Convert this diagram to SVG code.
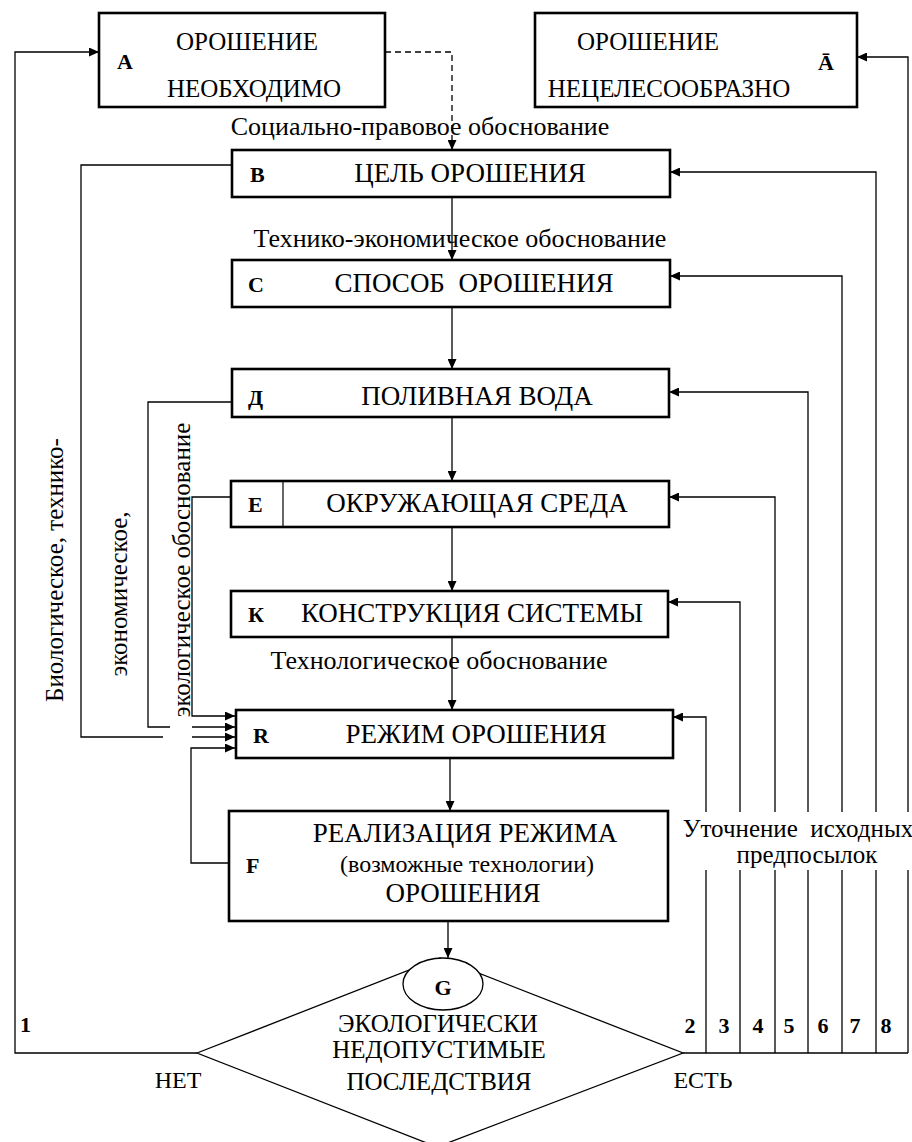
<svg xmlns="http://www.w3.org/2000/svg" width="912" height="1142" viewBox="0 0 912 1142">
<style>
.box{fill:#fff;stroke:#000;stroke-width:2.6}
.t{font-family:"Liberation Serif","Times New Roman","DejaVu Serif",serif;fill:#000}
.bt{font-size:27px;text-anchor:middle}
.tt{font-size:25px;text-anchor:middle}
.lt{font-size:26px;text-anchor:middle}
.b{font-size:22px;font-weight:bold}
.c{fill:none;stroke:#000;stroke-width:1.3}
.ca{fill:none;stroke:#000;stroke-width:1.3;marker-end:url(#ah)}
</style>
<defs>
<marker id="ah" markerUnits="userSpaceOnUse" markerWidth="11" markerHeight="9" refX="10" refY="4.5" orient="auto">
<path d="M0,0 L10,4.5 L0,9 z" fill="#000"/>
</marker>
</defs>
<rect width="912" height="1142" fill="#fff"/>
<g id="connectors">
<path class="ca" d="M385,52 H452 V150" stroke-dasharray="6,4"/>
<path class="ca" d="M452,197 V260" stroke="#555"/>
<path class="ca" d="M452,307 V369"/>
<path class="ca" d="M452,417 V481"/>
<path class="ca" d="M452,527 V591"/>
<path class="ca" d="M452,637 V710"/>
<path class="ca" d="M450,758 V811"/>
<path class="ca" d="M448,921 V958"/>
<path class="ca" d="M197,1053 H15 V52 H99"/>
<path class="c" d="M683,1053 H908"/>
<path class="c" d="M706,1053 V870"/><path class="ca" d="M706,812 V717 H673"/>
<path class="c" d="M740,1053 V870"/><path class="ca" d="M740,812 V602 H668"/>
<path class="c" d="M775,1053 V870"/><path class="ca" d="M775,812 V497 H669"/>
<path class="c" d="M808,1053 V870"/><path class="ca" d="M808,812 V392 H669"/>
<path class="c" d="M842,1053 V870"/><path class="ca" d="M842,812 V276 H670"/>
<path class="c" d="M876,1053 V870"/><path class="ca" d="M876,812 V172 H670"/>
<path class="c" d="M908,1053 V870"/><path class="ca" d="M908,812 V57 H857"/>
<path class="c" d="M232,165 H81 V737 H163"/><path class="ca" d="M192,737 H235"/>
<path class="c" d="M232,402 H148 V727 H170"/><path class="ca" d="M192,727 H235"/>
<path class="ca" d="M231,497 H192 V716 H235"/>
<path class="ca" d="M229,863 H191 V748 H235"/>
</g>
<g id="nodeA">
<rect class="box" x="99" y="13" width="286" height="94"/>
<text class="t b" x="117" y="69">A</text>
<text class="t tt" x="247" y="50">ОРОШЕНИЕ</text>
<text class="t tt" x="254" y="97">НЕОБХОДИМО</text>
</g>
<g id="nodeAbar">
<rect class="box" x="535" y="13" width="322" height="94"/>
<text class="t tt" x="648" y="50">ОРОШЕНИЕ</text>
<text class="t tt" x="669" y="97">НЕЦЕЛЕСООБРАЗНО</text>
<text class="t b" x="818" y="70">Ā</text>
</g>
<g id="nodeB">
<rect class="box" x="232" y="150" width="438" height="47"/>
<text class="t b" x="250" y="182">B</text>
<text class="t bt" x="470" y="182">ЦЕЛЬ ОРОШЕНИЯ</text>
</g>
<g id="nodeC">
<rect class="box" x="232" y="260" width="438" height="47"/>
<text class="t b" x="248" y="292">C</text>
<text class="t bt" x="474" y="292" style="white-space:pre">СПОСОБ  ОРОШЕНИЯ</text>
</g>
<g id="nodeD">
<rect class="box" x="232" y="369" width="437" height="48"/>
<text class="t b" x="248" y="405">Д</text>
<text class="t bt" x="477" y="405">ПОЛИВНАЯ ВОДА</text>
</g>
<g id="nodeE">
<rect class="box" x="231" y="481" width="438" height="46"/>
<line x1="283" y1="481" x2="283" y2="527" stroke="#000" stroke-width="1.2"/>
<text class="t b" x="248" y="512">E</text>
<text class="t bt" x="477" y="512">ОКРУЖАЮЩАЯ СРЕДА</text>
</g>
<g id="nodeK">
<rect class="box" x="231" y="591" width="437" height="46"/>
<text class="t b" x="248" y="622">К</text>
<text class="t bt" x="472" y="622">КОНСТРУКЦИЯ СИСТЕМЫ</text>
</g>
<g id="nodeR">
<rect class="box" x="236" y="710" width="437" height="48"/>
<text class="t b" x="253" y="743">R</text>
<text class="t bt" x="476" y="743">РЕЖИМ ОРОШЕНИЯ</text>
</g>
<g id="nodeF">
<rect class="box" x="229" y="811" width="439" height="110" stroke-width="3"/>
<text class="t b" x="246" y="873">F</text>
<text class="t bt" x="465" y="842">РЕАЛИЗАЦИЯ РЕЖИМА</text>
<text class="t tt" x="467" y="872" style="font-size:24px">(возможные технологии)</text>
<text class="t bt" x="463" y="902">ОРОШЕНИЯ</text>
</g>
<g id="nodeG">
<polygon points="197,1053 440,958 683,1053 437,1147" fill="#fff" stroke="#000" stroke-width="1.3"/>
<ellipse cx="443" cy="984" rx="40" ry="26" fill="#fff" stroke="#000" stroke-width="1.3"/>
<text class="t b" x="443" y="995" text-anchor="middle">G</text>
<text class="t tt" x="438" y="1032">ЭКОЛОГИЧЕСКИ</text>
<text class="t tt" x="439" y="1058">НЕДОПУСТИМЫЕ</text>
<text class="t tt" x="439" y="1090">ПОСЛЕДСТВИЯ</text>
</g>
<g id="labels">
<text class="t lt" x="420" y="135">Социально-правовое обоснование</text>
<text class="t lt" x="460" y="247">Технико-экономическое обоснование</text>
<text class="t lt" x="439" y="669">Технологическое обоснование</text>
<text class="t tt" x="798" y="837" style="white-space:pre">Уточнение  исходных</text>
<text class="t tt" x="807" y="863">предпосылок</text>
<text class="t tt" x="0" y="0" transform="translate(63,570) rotate(-90)">Биологическое, технико-</text>
<text class="t tt" x="0" y="0" transform="translate(127,594) rotate(-90)">экономическое,</text>
<text class="t tt" x="0" y="0" transform="translate(190,570) rotate(-90)">экологическое обоснование</text>
<text class="t tt" x="178" y="1088" style="font-size:24px">НЕТ</text>
<text class="t tt" x="703" y="1088" style="font-size:24px">ЕСТЬ</text>
<text class="t b" x="20" y="1032">1</text>
<text class="t b" x="690" y="1033" text-anchor="middle">2</text>
<text class="t b" x="724" y="1033" text-anchor="middle">3</text>
<text class="t b" x="758" y="1033" text-anchor="middle">4</text>
<text class="t b" x="789" y="1033" text-anchor="middle">5</text>
<text class="t b" x="823" y="1033" text-anchor="middle">6</text>
<text class="t b" x="855" y="1033" text-anchor="middle">7</text>
<text class="t b" x="886" y="1033" text-anchor="middle">8</text>
</g>
</svg>
